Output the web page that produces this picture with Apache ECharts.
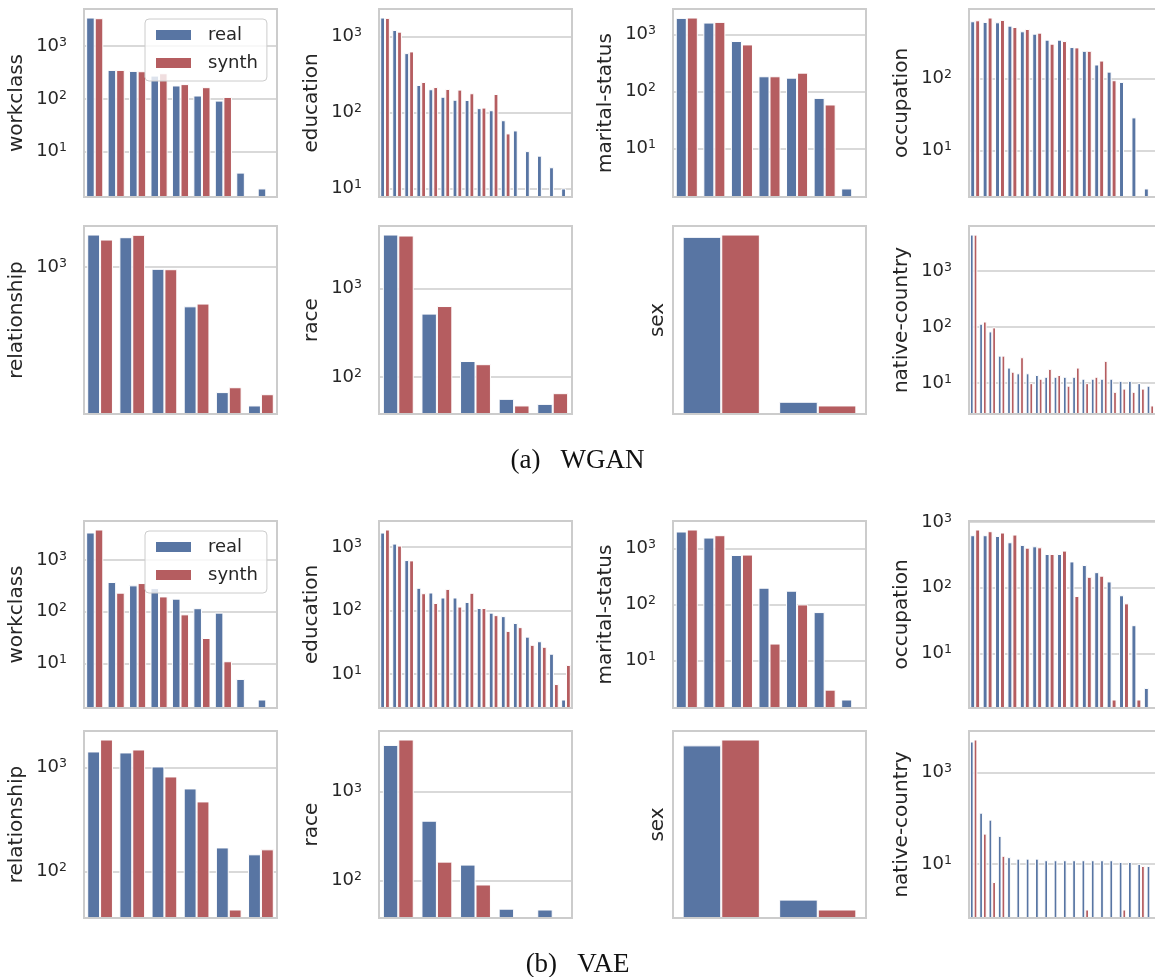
<!DOCTYPE html>
<html>
<head>
<meta charset="utf-8">
<script src="https://cdn.jsdelivr.net/npm/echarts@6/dist/echarts.min.js"></script>
<style>
  html, body { margin: 0; padding: 0; background: #ffffff; }
  #chart { width: 1155px; height: 977px; }
</style>
</head>
<body>
<div id="chart"></div>
<script>
// ---- categories (ordered by real frequency) ----
const workclassCats = ['Private', 'Self-emp-not-inc', 'Local-gov', '?', 'State-gov', 'Self-emp-inc', 'Federal-gov', 'Without-pay', 'Never-worked'];
const educationCats = ['HS-grad', 'Some-college', 'Bachelors', 'Masters', 'Assoc-voc', '11th', 'Assoc-acdm', '10th', '7th-8th', 'Prof-school', '9th', '12th', 'Doctorate', '5th-6th', '1st-4th', 'Preschool'];
const maritalCats = ['Married-civ-spouse', 'Never-married', 'Divorced', 'Separated', 'Widowed', 'Married-spouse-absent', 'Married-AF-spouse'];
const occupationCats = ['Prof-specialty', 'Craft-repair', 'Exec-managerial', 'Adm-clerical', 'Sales', 'Other-service', 'Machine-op-inspct', '?', 'Transport-moving', 'Handlers-cleaners', 'Farming-fishing', 'Tech-support', 'Protective-serv', 'Priv-house-serv', 'Armed-Forces'];
const relationshipCats = ['Husband', 'Not-in-family', 'Own-child', 'Unmarried', 'Wife', 'Other-relative'];
const raceCats = ['White', 'Black', 'Asian-Pac-Islander', 'Amer-Indian-Eskimo', 'Other'];
const sexCats = ['Male', 'Female'];
const countryCats = ['United-States', 'Mexico', '?', 'Philippines', 'Germany', 'Puerto-Rico', 'Canada', 'El-Salvador', 'India', 'Cuba', 'England', 'China', 'South', 'Jamaica', 'Italy', 'Dominican-Republic', 'Japan', 'Guatemala', 'Poland', 'Vietnam'];

// ---- WGAN counts ----
const wganWorkclassReal = [3500, 355, 340, 277, 180, 116, 93, 4, 2];
const wganWorkclassSynth = [3400, 355, 335, 307, 191, 167, 109, null, null];
const wganEducationReal = [1775, 1219, 604, 230, 202, 161, 147, 146, 114, 107, 79, 58, 31, 27, 19, 10];
const wganEducationSynth = [1757, 1158, 636, 252, 216, 204, 200, 179, 116, 175, 53, null, null, null, null, null];
const wganMaritalReal = [1936, 1603, 762, 184, 174, 77, 2];
const wganMaritalSynth = [1963, 1648, 664, 184, 213, 59, null];
const wganOccupationReal = [624, 611, 604, 543, 453, 420, 347, 347, 274, 243, 157, 125, 90, 29, 3];
const wganOccupationSynth = [644, 703, 652, 520, 488, 434, 305, 332, 271, 243, 178, 95, null, null, null];
const wganRelationshipReal = [1600, 1540, 977, 570, 166, 137];
const wganRelationshipSynth = [1489, 1594, 972, 593, 178, 161];
const wganRaceReal = [4046, 520, 152, 57, 50];
const wganRaceSynth = [3945, 633, 140, 48, 66];
const wganSexReal = [3230, 1595];
const wganSexSynth = [3262, 1570];
const wganCountryReal = [4500, 115, 84, 31, 19, 15, 15, 14, 13, 13, 13, 13, 12, 12, 12, 12, 11, 11, 10, 9];
const wganCountrySynth = [4480, 126, 99, 31, 16, 29, 10, 12, 18, 14, 9, 19, 10, 13, 25, 7, 8, 7, 8, 4];

// ---- VAE counts ----
const vaeWorkclassReal = [3420, 376, 324, 287, 179, 117, 96, 5, 2];
const vaeWorkclassSynth = [3908, 234, 359, 198, 89, 31, 11, null, null];
const vaeEducationReal = [1694, 1135, 625, 229, 193, 161, 161, 137, 110, 93, 82, 64, 39, 33, 21, 4];
const vaeEducationSynth = [1892, 1056, 618, 188, 132, 220, 116, 191, 110, 85, 48, 55, 29, 27, 7, 14];
const vaeMaritalReal = [2010, 1567, 765, 199, 176, 73, 2];
const vaeMaritalSynth = [2183, 1726, 778, 20, 100, 3, null];
const vaeOccupationReal = [631, 631, 615, 493, 449, 428, 327, 327, 252, 222, 173, 125, 77, 27, 3];
const vaeOccupationSynth = [771, 726, 693, 646, 408, 413, 327, 368, 75, 147, 153, 2, 58, 2, null];
const vaeRelationshipReal = [1425, 1394, 1022, 628, 170, 146];
const vaeRelationshipSynth = [1857, 1489, 819, 471, 43, 163];
const vaeRaceReal = [3380, 472, 151, 48, 47];
const vaeRaceSynth = [3890, 163, 90, null, null];
const vaeSexReal = [3210, 1590];
const vaeSexSynth = [3297, 1520];
const vaeCountryReal = [4790, 132, 93, 41, 14, 13, 13, 13, 12, 12, 12, 12, 12, 12, 12, 12, 11, 11, 10, 9];
const vaeCountrySynth = [5300, 46, 4, 15, null, null, null, null, null, null, null, null, 1, null, null, null, 1, null, 9, null];

// ---- captions ----
const captions = ['(a)\u2002 WGAN', '(b)\u2002 VAE'];
const seriesNames = ['real', 'synth'];

// ---- panels, row by row ----
const panels = [
  ['workclass', workclassCats, wganWorkclassReal, wganWorkclassSynth],
  ['education', educationCats, wganEducationReal, wganEducationSynth],
  ['marital-status', maritalCats, wganMaritalReal, wganMaritalSynth],
  ['occupation', occupationCats, wganOccupationReal, wganOccupationSynth],
  ['relationship', relationshipCats, wganRelationshipReal, wganRelationshipSynth],
  ['race', raceCats, wganRaceReal, wganRaceSynth],
  ['sex', sexCats, wganSexReal, wganSexSynth],
  ['native-country', countryCats, wganCountryReal, wganCountrySynth],
  ['workclass', workclassCats, vaeWorkclassReal, vaeWorkclassSynth],
  ['education', educationCats, vaeEducationReal, vaeEducationSynth],
  ['marital-status', maritalCats, vaeMaritalReal, vaeMaritalSynth],
  ['occupation', occupationCats, vaeOccupationReal, vaeOccupationSynth],
  ['relationship', relationshipCats, vaeRelationshipReal, vaeRelationshipSynth],
  ['race', raceCats, vaeRaceReal, vaeRaceSynth],
  ['sex', sexCats, vaeSexReal, vaeSexSynth],
  ['native-country', countryCats, vaeCountryReal, vaeCountrySynth]
];

// decades between labelled ticks, per panel (the widest axis labels every other decade)
const decadeStep = [1, 1, 1, 1, 1, 1, 1, 1, 1, 1, 1, 1, 1, 1, 1, 2];

// ---- layout ----
const colLeft = [84, 379, 673, 969];
const panelWidth = 193;
const rowTop = [9, 226, 521, 731];
const rowHeight = [188, 188, 187, 187];

const BLUE = '#5875a3';
const RED = '#b55d60';
const INK = '#262626';
const EDGE = '#cccccc';

// log-axis limits: data range padded by 5% of its span in log space
function logLimits(a, b) {
  const vals = a.concat(b).filter(v => v != null && v > 0);
  const lo = Math.log10(Math.min.apply(null, vals));
  const hi = Math.log10(Math.max.apply(null, vals));
  const pad = 0.05 * (hi - lo);
  return [Math.pow(10, lo - pad), Math.pow(10, hi + pad)];
}

// only decades get a label, drawn as 10 with a raised exponent
function decadeLabeller(step) {
  return function (v) {
    const e = Math.log10(v);
    const k = Math.round(e);
    if (Math.abs(e - k) > 1e-6) return '';
    if (step > 1 && ((k - 1) % step + step) % step !== 0) return '';
    return '{b|10}{s|' + k + '}';
  };
}

const grids = [], xAxes = [], yAxes = [], series = [], frames = [];

panels.forEach((p, i) => {
  const [label, cats, real, synth] = p;
  const row = Math.floor(i / 4), col = i % 4;
  const left = colLeft[col], top = rowTop[row], h = rowHeight[row];
  const isSex = label === 'sex';
  const step = decadeStep[i];
  const lim = logLimits(real, synth);

  grids.push({ left: left, top: top, width: panelWidth, height: h, show: false });

  xAxes.push({
    type: 'category', gridIndex: i, data: cats, boundaryGap: true,
    axisLine: { show: false }, axisTick: { show: false },
    axisLabel: { show: false }, splitLine: { show: false }
  });

  yAxes.push({
    type: 'log', logBase: 10, gridIndex: i, min: lim[0], max: lim[1], startValue: 1e-3,
    name: label, nameLocation: 'middle', nameGap: isSex ? 5 : 57,
    nameTextStyle: { fontFamily: 'DejaVu Sans', fontSize: 20, color: INK },
    axisLine: { show: false }, axisTick: { show: false },
    axisLabel: {
      show: !isSex, margin: 17, formatter: decadeLabeller(step),
      showMinLabel: true, showMaxLabel: true,
      rich: {
        b: { fontFamily: 'DejaVu Sans', fontSize: 18, lineHeight: 20, color: INK },
        s: { fontFamily: 'DejaVu Sans', fontSize: 12.5, lineHeight: 13, verticalAlign: 'top', color: INK }
      }
    },
    splitLine: {
      show: !isSex,
      showMinLine: step === 1, showMaxLine: step === 1,
      lineStyle: { color: step === 1 ? EDGE : ['rgba(0,0,0,0)', EDGE], width: 1.5 }
    },
    minorSplitLine: { show: false }
  });

  [real, synth].forEach((vals, s) => {
    series.push({
      type: 'bar', name: seriesNames[s], xAxisIndex: i, yAxisIndex: i,
      data: vals, barGap: '0%', barCategoryGap: '20%', clip: true,
      itemStyle: { color: s === 0 ? BLUE : RED, borderColor: '#ffffff', borderWidth: 1 },
      silent: true
    });
  });

  frames.push({
    type: 'rect', silent: true, z: 10,
    shape: { x: left, y: top, width: panelWidth, height: h },
    style: { fill: null, stroke: EDGE, lineWidth: 2 }
  });
});

function legendAt(top) {
  return {
    left: 145, top: top, orient: 'vertical', selectedMode: false,
    data: seriesNames, icon: 'rect', itemWidth: 37, itemHeight: 12, itemGap: 10,
    padding: [7, 9, 9, 9],
    backgroundColor: 'rgba(255,255,255,0.8)', borderColor: EDGE, borderWidth: 1, borderRadius: 4,
    textStyle: { fontFamily: 'DejaVu Sans', fontSize: 18, color: INK, padding: [0, 0, 0, 11] }
  };
}

function captionAt(text, top) {
  return {
    text: text, left: 'center', top: top, padding: 0,
    textStyle: { fontFamily: 'Liberation Serif', fontSize: 27, fontWeight: 'normal', color: '#111111' }
  };
}

const chart = echarts.init(document.getElementById('chart'), null, { renderer: 'canvas' });
chart.setOption({
  backgroundColor: '#ffffff',
  animation: false,
  title: [captionAt(captions[0], 447), captionAt(captions[1], 951)],
  legend: [legendAt(19), legendAt(531)],
  grid: grids,
  xAxis: xAxes,
  yAxis: yAxes,
  series: series,
  graphic: frames
});
</script>
</body>
</html>
